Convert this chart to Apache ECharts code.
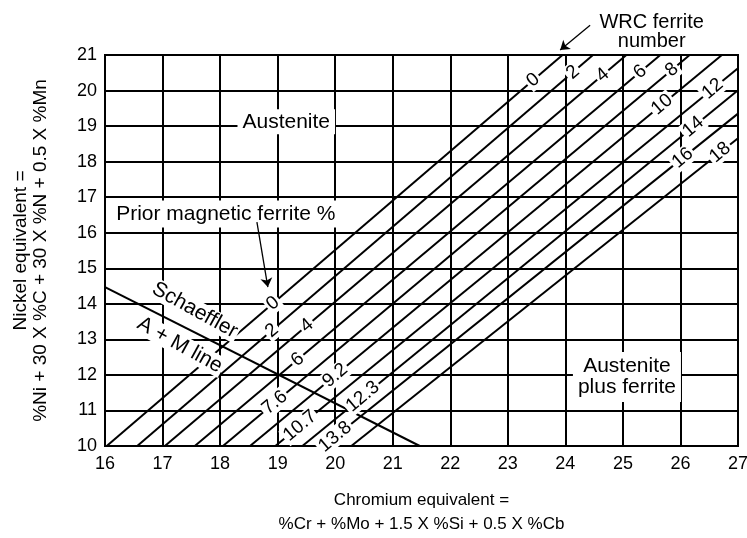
<!DOCTYPE html>
<html><head><meta charset="utf-8">
<script src="https://cdn.jsdelivr.net/npm/echarts@6/dist/echarts.min.js"></script>
<style>html,body{margin:0;padding:0;background:#fff}#c{width:747px;height:538px}</style>
</head><body><div id="c"></div>
<script>
// ---- data ----
const crRange = [16, 27];
const niRange = [10, 21];
const wrcNumbers = ['0','2','4','6','8','10','12','14','16','18'];
const fnStart = [[16.03,10],[16.56,10],[17.04,10],[17.56,10],[18.05,10],[18.52,10],[18.96,10],[19.43,10],[19.80,10],[20.28,10]];
const fnEnd   = [[23.95,21],[24.48,21],[25.06,21],[25.65,21],[26.16,21],[26.72,21],[27,20.63],[27,20.01],[27,19.35],[27,18.66]];
const priorMagLabels = ['0','2','4','6','7.6','9.2','10.7','12.3','13.8'];
const priorMagLabelCr = [18.92,18.90,19.51,19.35,18.95,20.0,19.39,20.48,20.0];
const wrcLabelCr = [23.44,24.13,24.65,25.30,25.85,25.68,26.56,26.22,26.04,26.69];
const amLine = [[16,14.47],[21.47,10]];
const regionText = [
  {name:'Austenite', at:[19.15,19.12], rot:0, pad:[2,5]},
  {name:'Austenite\nplus ferrite', at:[25.07,11.94], rot:0, pad:[4,5]},
  {name:'Prior magnetic ferrite %', at:[18.10,16.53], rot:0, pad:[3,5]},
  {name:'Schaeffler', at:[17.56,13.82], rot:-29, pad:[0,2]},
  {name:'A + M line', at:[17.30,12.84], rot:-29, pad:[0,2]}
];
const wrcTitle = {name:'WRC ferrite\nnumber', at:[25.5,21.66]};
const arrows = [
  [[24.43,21.84],[23.91,21.14]],
  [[18.64,16.30],[18.83,14.47]]
];

const FONT = 'Liberation Sans, Arial, Helvetica, sans-serif';
function yOn(i, x){
  const a = fnStart[i], b = fnEnd[i];
  return a[1] + (b[1]-a[1])*(x-a[0])/(b[0]-a[0]);
}
const angle = 40;
const txt = {color:'#000', opacity:1, textBorderWidth:0, textBorderColor:'transparent', textShadowBlur:0, fontFamily:FONT};

const series = [];
fnStart.forEach((s,i)=>{
  series.push({type:'line', data:[fnStart[i], fnEnd[i]], symbol:'none', silent:true,
    lineStyle:{color:'#000', width:2}, z:2, animation:false});
});
series.push({type:'line', data:amLine, symbol:'none', silent:true,
  lineStyle:{color:'#000', width:2}, z:2, animation:false});
series.push({type:'lines', coordinateSystem:'cartesian2d', clip:false, silent:true,
  symbol:['none','arrow'], symbolSize:9, z:6,
  lineStyle:{color:'#000', width:1.3, opacity:1},
  data: arrows.map(a=>({coords:a}))});

const numLabel = Object.assign({show:true, position:'inside', fontSize:19,
  backgroundColor:'#fff', padding:[0,2], rotate:angle, formatter:'{b}'}, txt);
const hidden = {color:'#000', opacity:0};
series.push({type:'scatter', symbolSize:1, itemStyle:hidden, z:5, silent:true, clip:false,
  label:numLabel,
  data: wrcNumbers.map((t,i)=>({name:t, value:[wrcLabelCr[i], yOn(i, wrcLabelCr[i])]}))});
series.push({type:'scatter', symbolSize:1, itemStyle:hidden, z:5, silent:true, clip:false,
  label:numLabel,
  data: priorMagLabels.map((t,i)=>({name:t, value:[priorMagLabelCr[i], yOn(i, priorMagLabelCr[i])]}))});
series.push({type:'scatter', symbolSize:1, itemStyle:hidden, z:5, silent:true, clip:false,
  data: regionText.map(r=>({name:r.name, value:r.at,
    label:Object.assign({show:true, position:'inside', fontSize:21, lineHeight:21,
      backgroundColor:'#fff', padding:r.pad, rotate:r.rot, formatter:'{b}', align:'center'}, txt)}))
});
series.push({type:'scatter', symbolSize:1, itemStyle:hidden, z:5, silent:true, clip:false,
  data:[{name:wrcTitle.name, value:wrcTitle.at,
    label:Object.assign({show:true, position:'inside', fontSize:20, lineHeight:19, formatter:'{b}', align:'center'}, txt)}]
});

const axisCommon = {
  type:'value', interval:1,
  axisLine:{show:true, lineStyle:{color:'#000', width:2}},
  axisTick:{show:false},
  splitLine:{show:true, lineStyle:{color:'#000', width:2}},
  axisLabel:{color:'#000', fontFamily:FONT, fontSize:18},
  nameLocation:'middle',
  nameTextStyle:{color:'#000', fontFamily:FONT}
};
const chart = echarts.init(document.getElementById('c'), null, {renderer:'canvas'});
chart.setOption({
  animation:false,
  backgroundColor:'#fff',
  grid:{left:105, right:9, top:55, bottom:92, show:true, borderColor:'#000', borderWidth:2, outerBoundsMode:'none'},
  xAxis:Object.assign({}, axisCommon, {min:crRange[0], max:crRange[1],
    axisLabel:Object.assign({}, axisCommon.axisLabel, {margin:9}),
    name:'Chromium equivalent =\n%Cr + %Mo + 1.5 X %Si + 0.5 X %Cb', nameGap:42,
    nameTextStyle:{color:'#000', fontFamily:FONT, fontSize:17, lineHeight:24}}),
  yAxis:Object.assign({}, axisCommon, {min:niRange[0], max:niRange[1],
    axisLabel:Object.assign({}, axisCommon.axisLabel, {margin:8}),
    name:'Nickel equivalent =\n%Ni + 30 X %C + 30 X %N + 0.5 X %Mn', nameGap:54, nameRotate:90,
    nameTextStyle:{color:'#000', fontFamily:FONT, fontSize:19, lineHeight:20}}),
  series:series
});
</script>
</body></html>
